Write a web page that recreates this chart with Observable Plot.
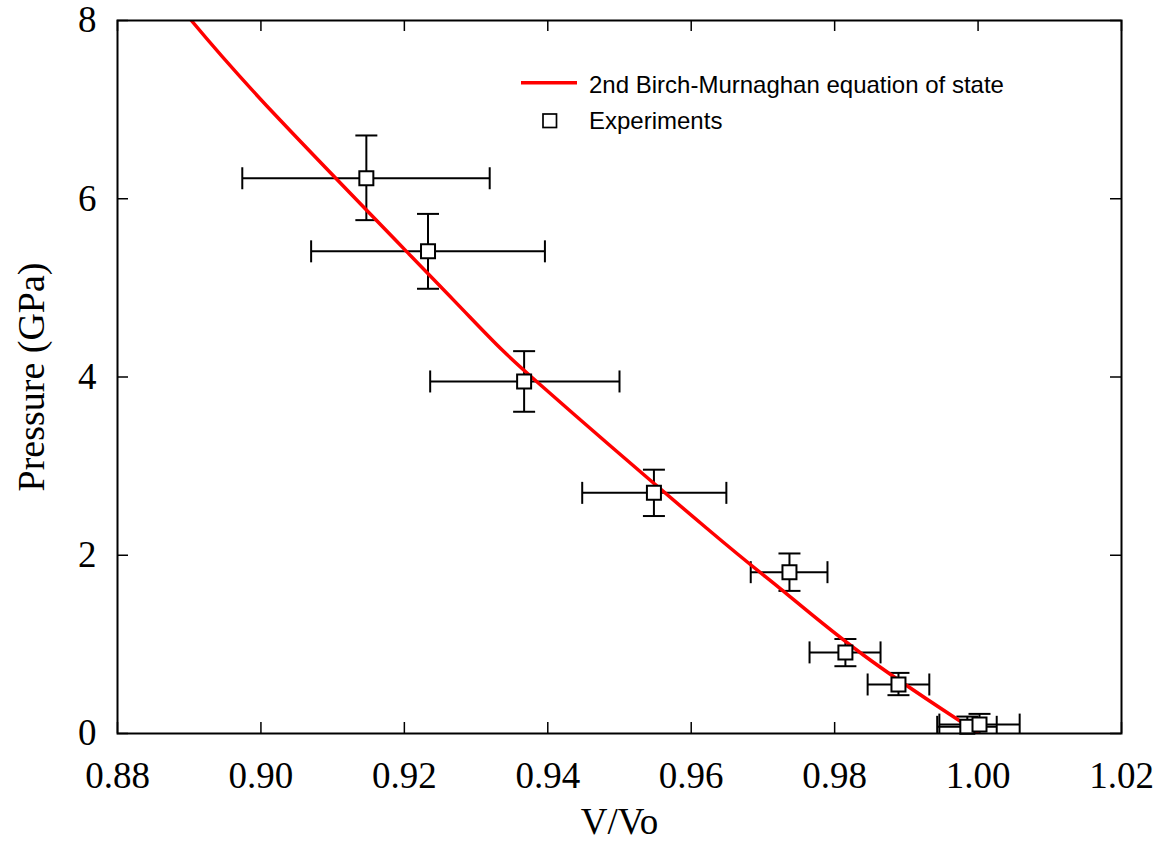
<!DOCTYPE html>
<html>
<head>
<meta charset="utf-8">
<script src="https://cdn.jsdelivr.net/npm/d3@7"></script>
<script src="https://cdn.jsdelivr.net/npm/@observablehq/plot@0.6"></script>
<style>
  html, body { margin: 0; padding: 0; background: white; }
</style>
</head>
<body>
<div id="chart"></div>
<script>
// ---- Data ----
const xTicks = [0.88, 0.90, 0.92, 0.94, 0.96, 0.98, 1.00, 1.02];
const yTicks = [0, 2, 4, 6, 8];

// Experiments: V/Vo, pressure, and error ranges
const expV   = [0.9147, 0.9233, 0.9367, 0.9548, 0.9737, 0.9815, 0.9889, 0.9985, 1.0002];
const expP   = [6.23,   5.41,   3.95,   2.70,   1.81,   0.91,   0.55,   0.075,  0.10];
const expVlo = [0.8974, 0.9070, 0.9236, 0.9448, 0.9683, 0.9765, 0.9846, 0.9943, 0.9946];
const expVhi = [0.9319, 0.9396, 0.9500, 0.9649, 0.9790, 0.9864, 0.9932, 1.0026, 1.0058];
const expPlo = [5.76,   4.99,   3.61,   2.44,   1.60,   0.755,  0.43,  -0.04,  -0.02];
const expPhi = [6.71,   5.83,   4.29,   2.96,   2.02,   1.06,   0.68,   0.19,   0.22];

// 2nd-order Birch-Murnaghan curve
const curveV = [0.8903, 0.9027, 0.9269, 0.9390, 0.9622, 0.9725, 0.9841, 0.9971, 1.0000];
const curveP = [8.00,   6.88,   4.86,   3.91,   2.30,   1.62,   0.875,  0.160,  0.00];

const legendLabels = ["2nd Birch-Murnaghan equation of state", "Experiments"];
const xLabel = "V/Vo";
const yLabel = "Pressure (GPa)";

// ---- Tables built from the arrays ----
const exp = expV.map((v, i) => ({v, p: expP[i], vlo: expVlo[i], vhi: expVhi[i], plo: expPlo[i], phi: expPhi[i]}));
const curve = curveV.map((v, i) => ({v, p: curveP[i]}));

const W = 1161, H = 842;
const mL = 117, mR = 40, mT = 20, mB = 109;
const plotW = W - mL - mR, plotH = H - mT - mB;
const tickLen = 11;
const serif = "'Liberation Serif', 'Times New Roman', serif";

// Cap symbols for error bars
const capV = {draw(ctx, size) { const h = Math.sqrt(size / Math.PI); ctx.moveTo(0, -h); ctx.lineTo(0, h); }};
const capH = {draw(ctx, size) { const h = Math.sqrt(size / Math.PI); ctx.moveTo(-h, 0); ctx.lineTo(h, 0); }};

const svg = Plot.plot({
  width: W,
  height: H,
  marginLeft: mL,
  marginRight: mR,
  marginTop: mT,
  marginBottom: mB,
  style: {fontFamily: serif, background: "white", overflow: "visible"},
  x: {domain: [0.88, 1.02], axis: null},
  y: {domain: [0, 8], axis: null},
  marks: [
    // inward ticks on all four sides
    Plot.ruleX(xTicks, {x: d => d, insetTop: plotH - tickLen, stroke: "black", strokeWidth: 1.5}),
    Plot.ruleX(xTicks, {x: d => d, insetBottom: plotH - tickLen, stroke: "black", strokeWidth: 1.5}),
    Plot.ruleY(yTicks, {y: d => d, insetRight: plotW - tickLen, stroke: "black", strokeWidth: 1.5}),
    Plot.ruleY(yTicks, {y: d => d, insetLeft: plotW - tickLen, stroke: "black", strokeWidth: 1.5}),
    // tick labels
    Plot.text(xTicks, {x: d => d, frameAnchor: "bottom", textAnchor: "middle", lineAnchor: "bottom", dy: 54,
      text: d => d.toFixed(2), fontSize: 37, fill: "black", fontFamily: serif}),
    Plot.text(yTicks, {y: d => d, frameAnchor: "left", textAnchor: "end", lineAnchor: "middle", dx: -21,
      text: d => String(d), fontSize: 37, fill: "black", fontFamily: serif}),
    // axis labels
    Plot.text([xLabel], {frameAnchor: "bottom", textAnchor: "middle", lineAnchor: "bottom", dy: 100,
      text: d => d, fontSize: 37, fill: "black", fontFamily: serif}),
    Plot.text([yLabel], {frameAnchor: "left", textAnchor: "middle", lineAnchor: "bottom", rotate: -90, dx: -74,
      text: d => d, fontSize: 38, fill: "black", fontFamily: serif}),
    // error bars
    Plot.link(exp, {x1: "vlo", x2: "vhi", y1: "p", y2: "p", stroke: "black", strokeWidth: 2, clip: true}),
    Plot.link(exp, {x1: "v", x2: "v", y1: "plo", y2: "phi", stroke: "black", strokeWidth: 2, clip: true}),
    Plot.dot(exp, {x: "vlo", y: "p", symbol: capV, r: 11, stroke: "black", fill: "none", strokeWidth: 2, clip: true}),
    Plot.dot(exp, {x: "vhi", y: "p", symbol: capV, r: 11, stroke: "black", fill: "none", strokeWidth: 2, clip: true}),
    Plot.dot(exp, {x: "v", y: "plo", symbol: capH, r: 11, stroke: "black", fill: "none", strokeWidth: 2, clip: true}),
    Plot.dot(exp, {x: "v", y: "phi", symbol: capH, r: 11, stroke: "black", fill: "none", strokeWidth: 2, clip: true}),
    // fitted curve
    Plot.line(curve, {x: "v", y: "p", curve: "natural", stroke: "#ff0000", strokeWidth: 3.5, clip: true}),
    // experimental points
    Plot.dot(exp, {x: "v", y: "p", symbol: "square", r: 7.9, stroke: "black", fill: "white", strokeWidth: 2}),
    Plot.frame({stroke: "black", strokeWidth: 2})
  ]
});

// Legend inside the plot area (top right)
const g = d3.select(svg).append("g")
  .attr("font-family", "'Liberation Sans', Arial, sans-serif")
  .attr("font-size", 24)
  .attr("text-anchor", "start");
g.append("line").attr("x1", 521).attr("x2", 577).attr("y1", 82.7).attr("y2", 82.7)
  .attr("stroke", "#ff0000").attr("stroke-width", 3.5);
g.append("text").attr("x", 589).attr("y", 92.5).attr("fill", "black").attr("text-anchor", "start").text(legendLabels[0]);
g.append("rect").attr("x", 543).attr("y", 114).attr("width", 13.5).attr("height", 13.5)
  .attr("fill", "white").attr("stroke", "black").attr("stroke-width", 1.7);
g.append("text").attr("x", 589).attr("y", 129).attr("fill", "black").attr("text-anchor", "start").text(legendLabels[1]);

document.getElementById("chart").appendChild(svg);
</script>
</body>
</html>
